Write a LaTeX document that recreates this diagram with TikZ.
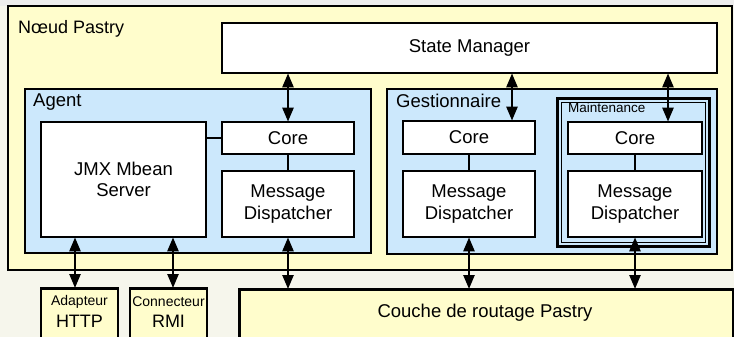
\documentclass[tikz,border=0pt]{standalone}
\usepackage{fontspec}
\setmainfont{Liberation Sans}
\usetikzlibrary{arrows.meta}
\definecolor{yel}{HTML}{FFFDCC}
\definecolor{blu}{HTML}{CCE8FC}
\definecolor{bgc}{HTML}{F6F6EC}
\begin{document}
\begin{tikzpicture}[x=1pt,y=-1pt,
  box/.style={draw=black,line width=2.7pt,fill=white,inner sep=0pt,align=center,font=\fontsize{18.5}{21.5}\selectfont},
  ybox/.style={box,fill=yel},
  bbox/.style={box,fill=blu},
  smallbox/.style={ybox,font=\fontsize{14}{18}\selectfont},
  title/.style={anchor=north west,inner sep=0pt,font=\fontsize{18.5}{21}\selectfont},
  link/.style={line width=2.5pt},
  biarrow/.style={line width=2.5pt,{Triangle[length=14pt,width=11pt]}-{Triangle[length=14pt,width=11pt]},shorten <=-1pt,shorten >=-1pt}]
\useasboundingbox (0,0) rectangle (734,337);
\clip (0,0) rectangle (734,337);
\fill[bgc] (0,0) rectangle (734,337);
\fill[black!7] (0,0) rectangle (734,6);
% outer
\node[ybox,minimum width=724pt,minimum height=264pt] (outer) at (370,138) {};
\node[title,font=\fontsize{18}{20}\selectfont] (tnoeud) at (18,20) {Nœud Pastry};
% state manager
\node[box,minimum width=495pt,minimum height=50pt] (sm) at (469.5,48) {State Manager};
% agent
\node[bbox,minimum width=346pt,minimum height=164pt] (agent) at (198,171) {};
\node[title] (tagent) at (33,94) {Agent};
\node[box,minimum width=165pt,minimum height=115pt] (jmx) at (123.5,179.5) {JMX Mbean\\Server};
\node[box,minimum width=132pt,minimum height=32pt] (acore) at (288,138) {Core};
\node[box,minimum width=132pt,minimum height=66pt] (amd) at (288,204) {Message\\Dispatcher};
% gestionnaire
\node[bbox,minimum width=330pt,minimum height=165pt] (gest) at (552,171.5) {};
\node[title] (tgest) at (396,94) {Gestionnaire};
\node[box,minimum width=132pt,minimum height=33pt] (gcore) at (469,137.5) {Core};
\node[box,minimum width=132pt,minimum height=66pt] (gmd) at (469,204) {Message\\Dispatcher};
% maintenance
\node[bbox,minimum width=152pt,minimum height=148pt] (maint) at (633.5,172.5) {};
\draw[line width=1.4pt] ([shift={(5.5pt,-5.5pt)}]maint.north west) rectangle ([shift={(-5.5pt,5.5pt)}]maint.south east);
\node[title,font=\fontsize{13.5}{16}\selectfont] (tmaint) at (568,103) {Maintenance};
\node[box,minimum width=134pt,minimum height=32pt] (mcore) at (635,138) {Core};
\node[box,minimum width=134pt,minimum height=66pt] (mmd) at (635,204) {Message\\Dispatcher};
% bottom boxes
\node[smallbox,minimum width=77pt,minimum height=70pt,anchor=north] (http) at (79.5,287) {};
\node[smallbox,minimum width=77pt,minimum height=70pt,anchor=north] (rmi) at (168.5,287) {};
\node[font=\fontsize{14}{16}\selectfont,inner sep=0pt] (thttp1) at (79.5,302) {Adapteur};
\node[font=\fontsize{18}{20}\selectfont,inner sep=0pt] (thttp2) at (79.5,321) {HTTP};
\node[font=\fontsize{14}{16}\selectfont,inner sep=0pt] (trmi1) at (168.5,302) {Connecteur};
\node[font=\fontsize{18}{20}\selectfont,inner sep=0pt] (trmi2) at (168.5,321) {RMI};
\node[ybox,minimum width=494pt,minimum height=70pt,anchor=north west] (couche) at (238,288) {};
\node[font=\fontsize{18.5}{21}\selectfont,inner sep=0pt] (tcouche) at (485,313) {Couche de routage Pastry};
% links
\draw[link] (jmx.east |- acore.west) -- (acore.west);
\draw[link] (acore) -- (amd);
\draw[link] (gcore) -- (gmd);
\draw[link] (mcore) -- (mmd);
% arrows
\draw[biarrow] (sm.south -| acore.north) -- (acore.north);
\draw[biarrow] (sm.south -| 512,0) -- (gcore.north -| 512,0);
\draw[biarrow] (sm.south -| 668,0) -- (mcore.north -| 668,0);
\draw[biarrow] (amd.south) -- (couche.north -| amd.south);
\draw[biarrow] (gmd.south) -- (couche.north -| gmd.south);
\draw[biarrow] (mmd.south) -- (couche.north -| mmd.south);
\draw[biarrow] (jmx.south -| 75,0) -- (http.north -| 75,0);
\draw[biarrow] (jmx.south -| 173,0) -- (rmi.north -| 173,0);
\end{tikzpicture}
\end{document}
